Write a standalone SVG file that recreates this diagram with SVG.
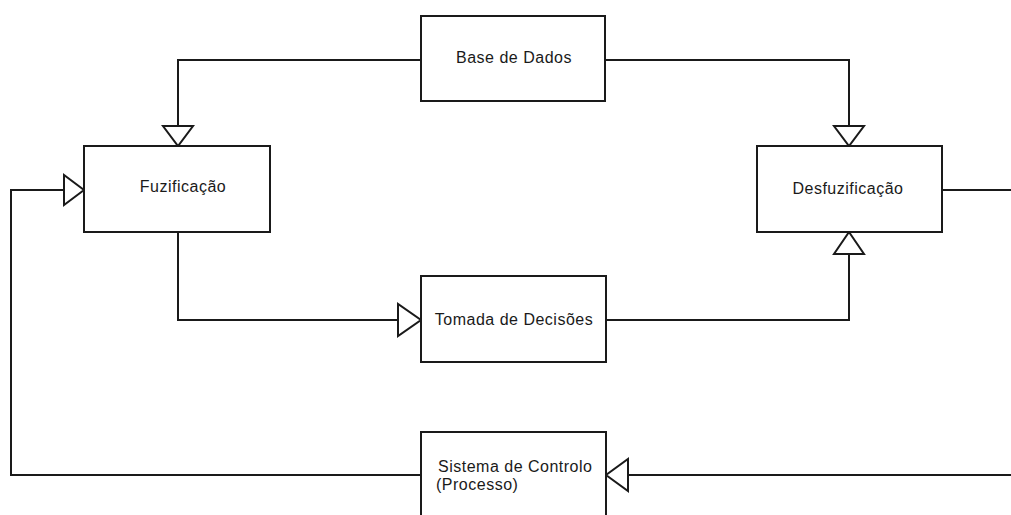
<svg xmlns="http://www.w3.org/2000/svg" width="1011" height="515" viewBox="0 0 1011 515">
<style>
.box{fill:#fff;stroke:#1a1a1a;stroke-width:2}
.ln{fill:none;stroke:#1a1a1a;stroke-width:2}
.ar{fill:#fff;stroke:#1a1a1a;stroke-width:2;stroke-linejoin:miter}
.t{font-family:"Liberation Sans",Arial,sans-serif;font-size:16px;letter-spacing:0.5px;fill:#1a1a1a}
</style>
<rect width="1011" height="515" fill="#fff"/>
<g id="connectors">
<polyline class="ln" points="421,60 178,60 178,126"/>
<polygon class="ar" points="163,126 193,126 178,146"/>
<polyline class="ln" points="605,60 849,60 849,126"/>
<polygon class="ar" points="834,126 864,126 849,146"/>
<polyline class="ln" points="178,232 178,320 398,320"/>
<polygon class="ar" points="398,304 398,336 421,320"/>
<polyline class="ln" points="606,320 849,320 849,254"/>
<polygon class="ar" points="834,254 864,254 849,232"/>
<polyline class="ln" points="942,190 1011,190"/>
<polyline class="ln" points="1011,475 628,475"/>
<polygon class="ar" points="628,459 628,491 606,475"/>
<polyline class="ln" points="421,475 11,475 11,190 64,190"/>
<polygon class="ar" points="64,175 64,205 84,190"/>
</g>
<g id="base-dados">
<rect class="box" x="421" y="16" width="184" height="85"/>
<text class="t" x="514" y="63" text-anchor="middle">Base de Dados</text>
</g>
<g id="fuzificacao">
<rect class="box" x="84" y="146" width="186" height="86"/>
<text class="t" x="183" y="192" text-anchor="middle">Fuzificação</text>
</g>
<g id="desfuzificacao">
<rect class="box" x="757" y="146" width="185" height="86"/>
<text class="t" x="848" y="194" text-anchor="middle">Desfuzificação</text>
</g>
<g id="tomada-decisoes">
<rect class="box" x="421" y="276" width="185" height="86"/>
<text class="t" x="514" y="325" text-anchor="middle">Tomada de Decisões</text>
</g>
<g id="sistema-controlo">
<rect class="box" x="421" y="432" width="185" height="100"/>
<text class="t" x="438" y="472">Sistema de Controlo</text>
<text class="t" x="436" y="490">(Processo)</text>
</g>
</svg>
